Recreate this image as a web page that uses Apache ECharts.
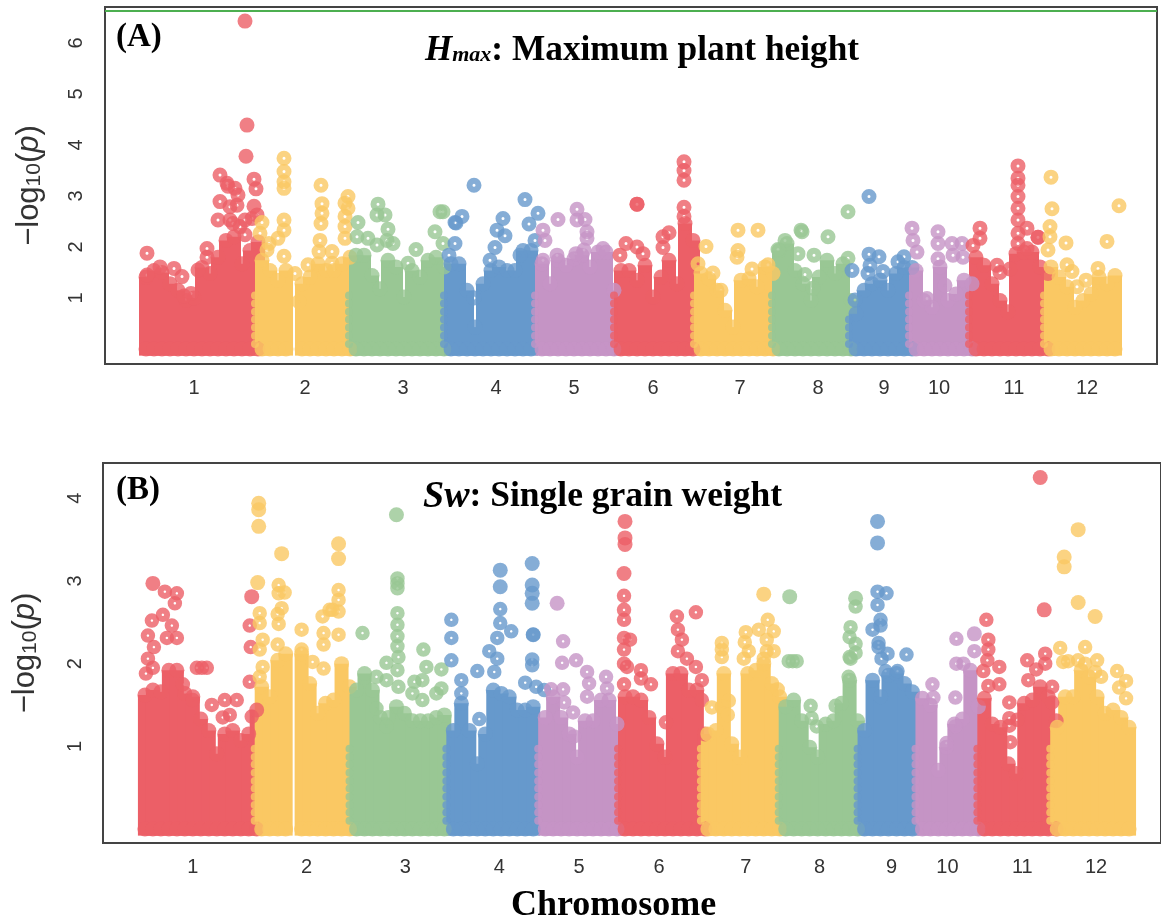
<!DOCTYPE html>
<html>
<head>
<meta charset="utf-8">
<title>Manhattan plots</title>
<script src="https://cdn.jsdelivr.net/npm/echarts@6/dist/echarts.min.js"></script>
<style>
  html, body { margin: 0; padding: 0; background: #fff; }
  #chart { width: 1161px; height: 922px; }
</style>
</head>
<body>
<div id="chart"></div>
<script>
// chromosome colours repeat every five
const palette = ['#EC5F67', '#FAC863', '#99C794', '#6699CC', '#C594C5']
const chromosomes = ['1', '2', '3', '4', '5', '6', '7', '8', '9', '10', '11', '12']
const yTicksA = [1, 2, 3, 4, 5, 6]
const yTicksB = [1, 2, 3, 4]
const labelPosA = [94, 205, 303, 396, 474, 553, 640, 718, 784, 839, 914, 987]
const labelPosB = [93, 207, 306, 400, 480, 560, 647, 721, 793, 849, 924, 998]
// heights of the points that stick out at the left edge of a chromosome
const edgeLevelsA = [0.1, 0.26, 0.42, 0.58, 0.73, 0.89, 1.05]
const edgeLevelsB = [0.1, 0.2, 0.29, 0.39, 0.49, 0.58, 0.68, 0.78, 0.87, 0.97]

// (A) first column position of each chromosome, columns are 8 units apart
const hmaxStarts = [46, 162, 256, 351, 442, 521, 601, 679, 756, 816, 876, 951]
// (A) height of the dense mass in each column, null = no points
const hmaxMass = [
  [1.41, 1.54, 1.5, 1.28, 1.15, 0.95, 1.0, 1.6, 1.48, 1.8, 2.13, 2.2, 1.67, 1.93, 2.1],
  [1.74, 1.54, 1.35, 1.54, null, 1.28, 1.41, 1.67, 1.54, 1.54, 1.67, 1.8],
  [1.84, 1.84, 1.44, 1.18, 1.74, 1.61, 1.02, 1.54, 1.41, 1.74, 1.8, 1.61],
  [1.67, 1.67, 1.15, 0.43, 1.28, 1.54, 1.61, 1.54, 1.54, 1.93, 1.93],
  [1.67, 1.28, 1.74, 1.64, 1.77, 1.84, 1.61, 1.9, 1.9, 1.15],
  [1.54, 1.54, 1.35, 1.64, 1.02, 1.41, 1.74, 1.28, 2.46, 2.13],
  [1.48, 1.38, 1.15, 0.76, 0.43, 1.35, 1.38, 1.22, 1.61, 1.48],
  [1.93, 2.07, 1.54, 1.28, 0.95, 1.41, 1.74, 1.48, 1.67, 0.95],
  [0.69, 1.15, 1.28, 1.35, 1.15, 1.48, 1.6, 1.6],
  [1.54, 0.95, 0.82, 1.61, 0.95, 1.08, 1.35, 1.28],
  [1.8, 1.64, 1.28, 0.95, 0.73, 1.87, 1.9, 1.9, 1.61, 1.48],
  [1.61, 1.41, 1.22, 0.82, 0.95, 1.08, 1.41, 1.28, 1.44]
]
// (A) single points [position, -log10(p)]
const hmaxPoints = [
  [[154, 3.33], [156, 3.14], [120, 3.41], [127, 3.25], [135, 3.15], [138, 3.02], [128, 3.19], [120, 2.89], [130, 2.79], [137, 2.82], [118, 2.53], [130, 2.53], [145, 2.53], [152, 2.56], [157, 2.63], [133, 2.46], [140, 2.4], [145, 2.24], [47, 1.88], [60, 1.61], [74, 1.58], [47, 1.45], [82, 1.42], [98, 1.55], [107, 1.97], [107, 1.8], [91, 1.09], [84, 1.04]],
  [[184, 3.74], [184, 3.48], [184, 3.28], [184, 3.15], [184, 2.53], [184, 2.33], [178, 2.17], [162, 2.48], [160, 2.27], [169, 2.07], [167, 1.94], [184, 1.82], [195, 1.48], [199, 0.93], [208, 1.65], [221, 3.21], [222, 2.85], [222, 2.66], [221, 2.46], [220, 2.13], [219, 1.91], [232, 1.91], [232, 1.68], [248, 2.99], [245, 2.86], [248, 2.76], [245, 2.6], [245, 2.4], [245, 2.17]],
  [[258, 2.48], [257, 2.2], [268, 2.17], [278, 2.84], [277, 2.63], [285, 2.63], [288, 2.35], [277, 2.04], [287, 2.13], [293, 2.07], [316, 1.95], [308, 1.68], [335, 2.3], [340, 2.69], [343, 2.69], [343, 2.07]],
  [[355, 2.48], [356, 2.47], [362, 2.6], [355, 2.07], [374, 3.21], [374, 1.0], [425, 2.93], [438, 2.66], [429, 2.45], [403, 2.56], [397, 2.33], [405, 2.22], [395, 1.99], [390, 1.74], [420, 1.84], [435, 2.13], [349, 1.84]],
  [[443, 2.33], [445, 2.13], [458, 2.54], [477, 2.74], [477, 2.53], [485, 2.54], [487, 2.3], [487, 2.17], [484, 1.94], [476, 1.87], [457, 1.84], [443, 1.74], [503, 1.97]],
  [[584, 3.67], [584, 3.5], [584, 3.31], [584, 2.78], [584, 2.6], [537, 2.84], [563, 2.2], [569, 2.28], [563, 1.99], [526, 2.07], [537, 2.0], [543, 1.87], [520, 1.84]],
  [[606, 2.01], [598, 1.67], [638, 2.33], [658, 2.33], [638, 1.93], [637, 1.8], [652, 1.57], [668, 1.65], [621, 1.15], [613, 1.49]],
  [[701, 2.33], [685, 2.13], [678, 1.95], [698, 1.87], [728, 2.2], [714, 1.84], [705, 1.46], [713, 1.19], [748, 2.69], [748, 1.78], [702, 2.3]],
  [[769, 2.99], [769, 1.86], [779, 1.81], [770, 1.64], [804, 1.81], [798, 1.71], [783, 1.52], [752, 1.54], [755, 0.96], [768, 1.48]],
  [[812, 2.37], [813, 2.13], [817, 1.9], [838, 2.3], [838, 2.07], [838, 1.77], [852, 2.07], [862, 2.07], [853, 1.84], [863, 1.8], [845, 1.25], [827, 0.99]],
  [[918, 3.59], [918, 3.35], [918, 3.21], [918, 2.99], [918, 2.76], [918, 2.53], [918, 2.27], [927, 2.37], [938, 2.19], [880, 2.37], [880, 2.17], [873, 2.03], [897, 1.64], [900, 1.5], [910, 1.57], [918, 2.07], [927, 1.97]],
  [[951, 3.37], [952, 2.75], [950, 2.4], [950, 2.2], [948, 1.94], [966, 2.08], [1007, 2.11], [1019, 2.81], [967, 1.65], [972, 1.52], [977, 1.22], [986, 1.35], [998, 1.58]]
]
// (A) points drawn without a visible hole
const hmaxSolid = [
  [[145, 6.43], [147, 4.39], [146, 3.78], [154, 2.8]], [], [], [], [],
  [[537, 2.84]], [], [], [], [], [[938, 2.19]], []
]

// (B) same layout as (A)
const swStarts = [45, 162, 257, 354, 446, 526, 609, 687, 766, 824, 886, 959]
const swMass = [
  [1.62, 1.68, 1.66, 1.92, 1.92, 1.64, 1.6, 1.33, 1.19, 0.91, 1.15, 1.19, 1.07, 1.15, 1.44],
  [1.72, 1.6, 2.04, 2.12, null, 2.12, 1.76, 1.4, 1.52, 1.56, 2.0, 1.72],
  [1.68, 1.88, 1.68, 1.35, 1.35, 1.48, 1.4, 1.31, 1.31, 1.31, 1.35, 1.38],
  [1.19, 1.52, 1.19, 0.79, 1.15, 1.68, 1.64, 1.6, 1.44, 1.44, 1.48],
  [1.35, 1.6, 1.35, 1.15, 0.87, 1.31, 1.31, 1.56, 1.56, 1.27],
  [1.6, 1.6, 1.56, 1.35, 1.03, 0.87, 1.88, 1.88, 1.68, 1.68, 1.15],
  [1.15, 1.19, 1.88, 1.03, 0.87, 1.88, 1.92, 2.0, 1.76, 1.6],
  [1.48, 1.56, 1.31, 0.99, 0.87, 1.27, 1.31, 1.52, 1.8, 1.31],
  [1.19, 1.8, 1.6, 1.86, 1.88, 1.76, 1.66],
  [1.58, 1.5, 0.71, 0.99, 1.27, 1.33, 1.92, 1.48],
  [1.58, 1.27, 1.23, 0.79, 0.67, 1.52, 1.56, 1.72, 1.6, 1.31],
  [1.23, 1.6, 1.6, 1.92, 1.84, 1.6, 1.4, 1.44, 1.35, 1.23]
]
const swPoints = [
  [[65, 2.87], [77, 2.85], [75, 2.73], [63, 2.59], [52, 2.52], [72, 2.46], [48, 2.34], [54, 2.2], [67, 2.31], [77, 2.31], [48, 2.06], [53, 1.95], [46, 1.88], [97, 1.95], [102, 1.95], [107, 1.95], [83, 1.75], [93, 1.56], [112, 1.5], [125, 1.56], [137, 1.56], [123, 1.35], [130, 1.38], [150, 2.46], [151, 2.2], [150, 1.78], [152, 1.36]],
  [[179, 2.95], [179, 2.85], [185, 2.86], [182, 2.67], [178, 2.6], [179, 2.48], [160, 2.61], [160, 2.49], [163, 2.29], [160, 2.17], [178, 2.23], [202, 2.41], [223, 2.57], [230, 2.65], [239, 2.89], [239, 2.77], [239, 2.63], [239, 2.35], [224, 2.37], [224, 2.23], [213, 2.02], [224, 1.94], [163, 1.96], [160, 1.84], [233, 2.65], [202, 2.17]],
  [[298, 3.03], [298, 2.97], [298, 2.91], [298, 2.61], [298, 2.47], [298, 2.33], [298, 2.21], [299, 2.08], [298, 1.92], [299, 1.72], [263, 2.37], [287, 2.01], [324, 2.17], [327, 1.96], [342, 1.93], [323, 1.8], [315, 1.78], [342, 1.7], [337, 1.64], [313, 1.64], [287, 1.8], [277, 1.84], [277, 1.46], [323, 1.56], [287, 1.24]],
  [[352, 2.53], [352, 2.31], [352, 2.04], [401, 2.66], [401, 2.49], [412, 2.39], [398, 2.31], [390, 2.15], [434, 2.35], [433, 2.05], [433, 1.98], [378, 1.91], [380, 1.33], [362, 1.8], [362, 1.64], [398, 2.06], [395, 1.9], [426, 1.77], [437, 1.72], [445, 1.68]],
  [[464, 2.27], [463, 2.01], [477, 2.04], [452, 1.69], [464, 1.69], [488, 1.9], [490, 1.76], [488, 1.6], [507, 1.84], [508, 1.7], [465, 1.53], [474, 1.41], [475, 1.12]],
  [[525, 2.82], [525, 2.65], [525, 2.53], [525, 2.31], [531, 2.29], [525, 2.17], [525, 2.0], [528, 1.96], [542, 1.92], [542, 1.82], [525, 1.75], [552, 1.75], [597, 2.62], [578, 2.57], [579, 2.41], [583, 2.29], [579, 2.15], [588, 2.06], [597, 1.96], [603, 1.8], [567, 1.29], [603, 1.56]],
  [[669, 2.53], [660, 2.41], [675, 2.39], [668, 2.29], [668, 2.15], [675, 2.15], [665, 2.06], [647, 2.38], [646, 2.26], [650, 2.15], [645, 2.06], [623, 2.25], [623, 2.17], [623, 2.08], [613, 1.47], [623, 1.48], [630, 1.55], [629, 1.38], [679, 1.69]],
  [[690, 2.03], [694, 2.03], [698, 2.03], [712, 1.49], [737, 1.49], [757, 2.69], [752, 2.44], [751, 2.32], [757, 2.24], [751, 2.08], [757, 2.13], [752, 2.06], [750, 1.84], [718, 1.24], [713, 1.34]],
  [[779, 2.87], [788, 2.85], [779, 2.71], [782, 2.53], [782, 2.46], [774, 2.41], [780, 2.25], [780, 2.2], [789, 2.12], [808, 2.11], [783, 2.06], [787, 1.91], [799, 1.91]],
  [[858, 2.3], [858, 2.0], [865, 2.0], [834, 1.75], [835, 1.59], [857, 1.59], [876, 2.15], [857, 1.24], [848, 1.04]],
  [[888, 2.53], [890, 2.29], [890, 2.17], [889, 2.04], [885, 1.91], [901, 1.96], [901, 1.75], [890, 1.73], [911, 1.53], [911, 1.34], [919, 1.32], [911, 1.25], [912, 1.05], [929, 2.04], [947, 2.12], [947, 2.0], [938, 1.93], [930, 1.8], [954, 1.72], [954, 1.53]],
  [[962, 2.19], [965, 2.02], [970, 2.03], [987, 2.2], [980, 2.04], [999, 2.04], [987, 2.0], [1019, 1.91], [1028, 1.79], [1021, 1.71], [1003, 1.84], [1028, 1.58], [997, 1.9]]
]
const swSolid = [
  [[53, 2.97], [152, 2.81]],
  [[159, 3.94], [159, 3.86], [159, 3.66], [182, 3.33], [239, 3.45], [239, 3.27], [158, 2.98]],
  [[297, 3.8]],
  [[401, 3.13], [401, 2.93], [433, 3.21], [433, 2.95], [433, 2.85], [433, 2.73], [434, 2.35]],
  [[458, 2.73]],
  [[526, 3.72], [526, 3.52], [526, 3.44], [525, 3.09]],
  [[665, 2.84]],
  [[691, 2.81], [757, 2.79]],
  [[779, 3.72], [779, 3.46]],
  [[876, 2.36]],
  [[942, 4.25], [946, 2.65]],
  [[980, 3.62], [966, 3.29], [966, 3.17], [980, 2.74], [997, 2.57]]
]

const columnStep = 8
const columnWidth = 14
const dotSize = 15
const edgeDotSize = 8

function panelSeries(starts, mass, points, solid, edgeLevels, gridIndex, ringSize, ringBorder, floor) {
  const bars = []
  const dots = []
  chromosomes.forEach((name, c) => {
    const color = palette[c % palette.length]
    const solidStyle = { color: color }
    const ringStyle = { color: 'transparent', borderColor: color, borderWidth: ringBorder }
    mass[c].forEach((h, k) => {
      if (h === null) return
      const x = starts[c] + k * columnStep
      bars.push({ value: [x, h], itemStyle: { color: color } })
      bars.push({ value: [x, floor], itemStyle: { color: color } })
      dots.push({ value: [x, h], itemStyle: solidStyle, symbolSize: dotSize })
      dots.push({ value: [x, 0], itemStyle: solidStyle, symbolSize: dotSize })
    })
    if (c > 0) {
      edgeLevels.filter(v => v <= mass[c][0]).forEach(v => {
        dots.push({ value: [starts[c] - columnWidth / 2, v], itemStyle: solidStyle, symbolSize: edgeDotSize })
      })
    }
    points[c].forEach(p => {
      dots.push({ value: p, itemStyle: ringStyle, symbolSize: ringSize })
    })
    solid[c].forEach(p => {
      dots.push({ value: p, itemStyle: solidStyle, symbolSize: dotSize })
    })
  })
  return [
    { type: 'bar', xAxisIndex: gridIndex, yAxisIndex: gridIndex, barWidth: columnWidth, data: bars, silent: true, animation: false },
    { type: 'scatter', xAxisIndex: gridIndex, yAxisIndex: gridIndex, data: dots, silent: true, animation: false }
  ]
}

function xAxisFor(gridIndex, min, max, positions) {
  return {
    type: 'value', gridIndex: gridIndex, min: min, max: max,
    axisLine: { show: false, onZero: false }, axisTick: { show: false }, splitLine: { show: false },
    axisLabel: {
      customValues: positions, margin: 14, fontSize: 20, color: '#333', fontFamily: 'Liberation Sans',
      formatter: v => chromosomes[positions.indexOf(v)]
    }
  }
}

function yAxisFor(gridIndex, min, max, ticks, labelMargin, nameGap) {
  return {
    type: 'value', gridIndex: gridIndex, min: min, max: max,
    axisLine: { show: false }, axisTick: { show: false }, splitLine: { show: false },
    axisLabel: { customValues: ticks, rotate: 90, margin: labelMargin, fontSize: 20, color: '#333', fontFamily: 'Liberation Sans', align: 'center', verticalAlign: 'middle' },
    name: '{t|\u2212log}{s|10}{t|(}{i|p}{t|)}',
    nameLocation: 'middle', nameRotate: 90, nameGap: nameGap,
    nameTextStyle: {
      rich: {
        t: { fontSize: 31, color: '#333', fontFamily: 'Liberation Sans' },
        s: { fontSize: 21, color: '#333', fontFamily: 'Liberation Sans', verticalAlign: 'bottom', padding: [8, 0, 0, 0] },
        i: { fontSize: 31, color: '#333', fontFamily: 'Liberation Sans', fontStyle: 'italic' }
      }
    }
  }
}

const serif = { fontFamily: 'Liberation Serif', fontWeight: 'bold', color: '#000' }
const seriesA = panelSeries(hmaxStarts, hmaxMass, hmaxPoints, hmaxSolid, edgeLevelsA, 0, 9, 6, -0.13)
seriesA[1].markLine = {
  silent: true, symbol: 'none', animation: false, label: { show: false },
  lineStyle: { color: '#4CAF50', width: 2, type: 'solid' },
  data: [{ yAxis: 6.64 }]
}
const seriesB = panelSeries(swStarts, swMass, swPoints, swSolid, edgeLevelsB, 1, 8.5, 6, -0.08)

const chart = echarts.init(document.getElementById('chart'), null, { renderer: 'canvas' })
chart.setOption({
  backgroundColor: '#fff',
  animation: false,
  grid: [
    { left: 105, top: 7, width: 1052, height: 357, show: true, borderColor: '#444', borderWidth: 2, backgroundColor: '#fff' },
    { left: 103, top: 463, width: 1060, height: 380, show: true, borderColor: '#444', borderWidth: 2, backgroundColor: '#fff' }
  ],
  xAxis: [xAxisFor(0, 5, 1057, labelPosA), xAxisFor(1, 3, 1063, labelPosB)],
  yAxis: [yAxisFor(0, -0.294, 6.706, yTicksA, 29, 60), yAxisFor(1, -0.169, 4.426, yTicksB, 28, 62)],
  series: seriesA.concat(seriesB),
  title: [
    { text: '(A)', left: 111, top: 16, textStyle: { ...serif, fontSize: 33 } },
    { text: '(B)', left: 111, top: 469, textStyle: { ...serif, fontSize: 33 } },
    {
      text: '{h|H}{m|max}{n|: Maximum plant height}', left: 420, top: 28,
      textStyle: { rich: {
        h: { ...serif, fontSize: 35, fontStyle: 'italic' },
        m: { ...serif, fontSize: 22, fontStyle: 'italic', padding: [10, 0, 0, 0] },
        n: { ...serif, fontSize: 35.3 }
      } }
    },
    {
      text: '{h|Sw}{n|: Single grain weight}', left: 418, top: 473,
      textStyle: { rich: {
        h: { ...serif, fontSize: 38, fontStyle: 'italic' },
        n: { ...serif, fontSize: 35.5 }
      } }
    },
    { text: 'Chromosome', left: 506, top: 883, textStyle: { ...serif, fontSize: 36 } }
  ]
})
</script>
</body>
</html>
